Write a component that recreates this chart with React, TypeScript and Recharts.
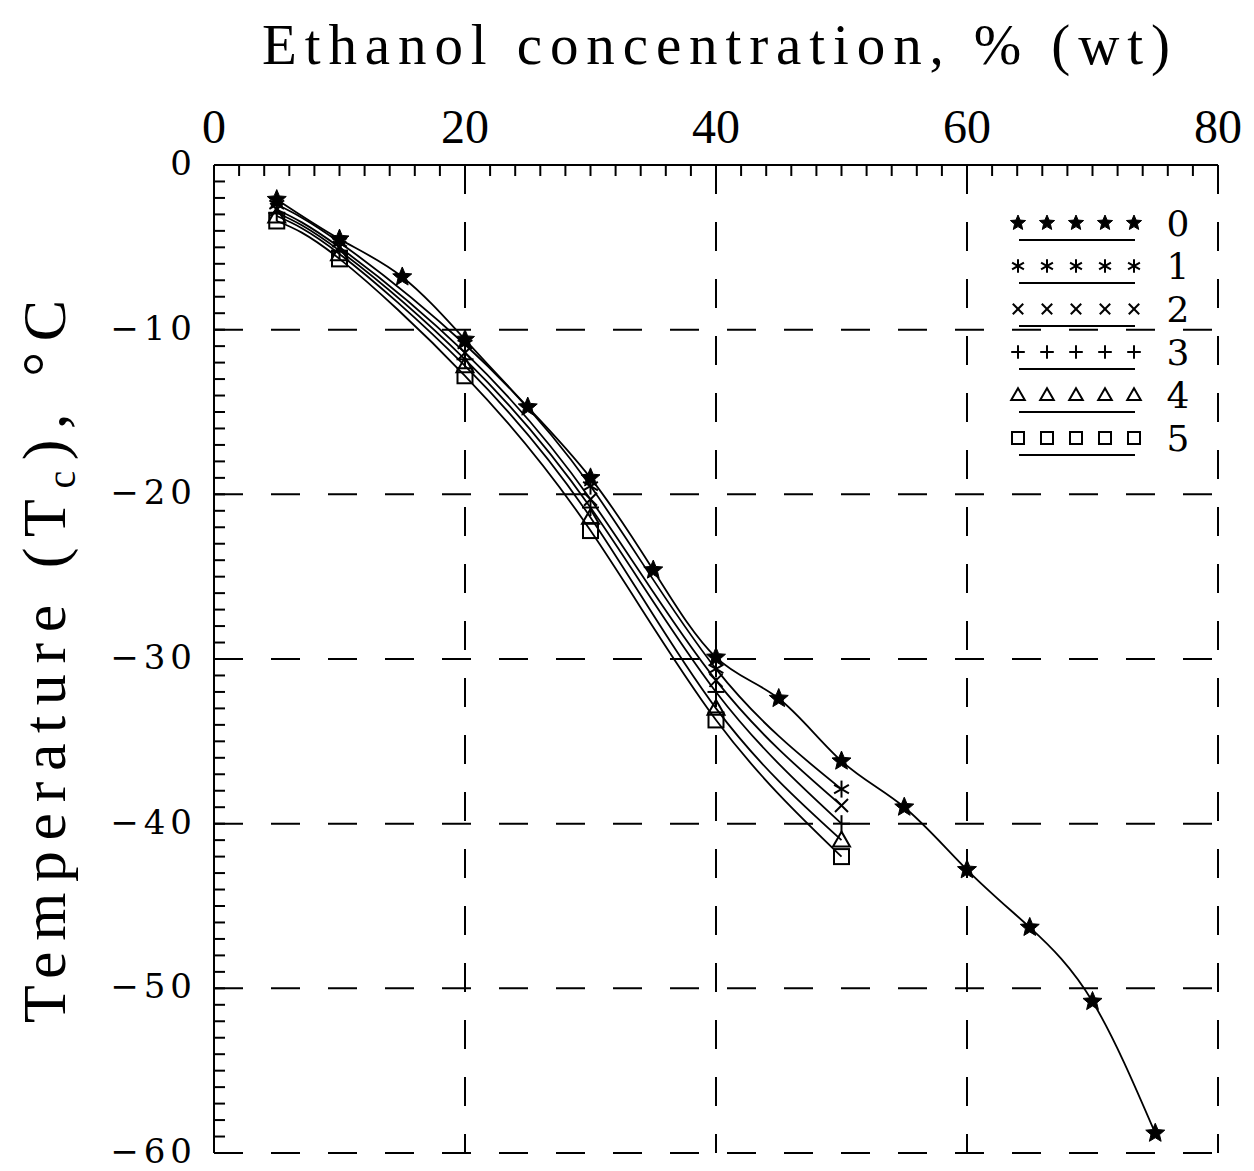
import React from "react";
import { LineChart, Line, XAxis, YAxis, ReferenceLine } from "recharts";

// ethanol concentration (% wt) and freezing temperature Tc (°C)
const conc0 = [5, 10, 15, 20, 25, 30, 35, 40, 45, 50, 55, 60, 65, 70, 75];
const temp0 = [-2.1, -4.5, -6.8, -10.6, -14.7, -19.0, -24.6, -29.9, -32.4, -36.2, -39.0, -42.8, -46.3, -50.8, -58.8];

const concN = [5, 10, 20, 30, 40, 50];
const temp1 = [-2.4, -4.7, -10.9, -19.5, -30.6, -37.9];
const temp2 = [-2.7, -5.0, -11.4, -20.3, -31.3, -38.9];
const temp3 = [-2.9, -5.2, -11.8, -20.8, -32.0, -40.0];
const temp4 = [-3.1, -5.4, -12.2, -21.4, -33.0, -41.0];
const temp5 = [-3.4, -5.7, -12.8, -22.2, -33.7, -42.0];

const seriesNames = ["0", "1", "2", "3", "4", "5"];
const seriesShapes = ["star", "asterisk", "cross", "plus", "triangle", "square"];

const xLabelTicks = [0, 20, 40, 60, 80];
const yLabelTicks = [0, -10, -20, -30, -40, -50, -60];
const xGrid = [20, 40, 60, 80];
const yGrid = [-10, -20, -30, -40, -50, -60];

const xMinorTicks = Array.from({ length: 41 }, (_, i) => i * 2);
const yMinorTicks = Array.from({ length: 61 }, (_, i) => -i);

const zip = (xs: number[], ys: number[]) => xs.map((x, i) => ({ x, y: ys[i] }));

const series = [
  zip(conc0, temp0),
  zip(concN, temp1),
  zip(concN, temp2),
  zip(concN, temp3),
  zip(concN, temp4),
  zip(concN, temp5),
].map((data, i) => ({ name: seriesNames[i], shape: seriesShapes[i], data }));

const SERIF = "'Liberation Serif', 'Times New Roman', serif";
const WIDE = "'DejaVu Serif', serif";
const DASH = "29 28";

function Marker({ cx, cy, shape, r }: { cx: number; cy: number; shape: string; r: number }) {
  const sw = 2;
  if (shape === "star") {
    const pts: string[] = [];
    for (let k = 0; k < 10; k++) {
      const rad = k % 2 === 0 ? r : r * 0.45;
      const a = -Math.PI / 2 + (k * Math.PI) / 5;
      pts.push(`${cx + rad * Math.cos(a)},${cy + rad * Math.sin(a)}`);
    }
    return <polygon points={pts.join(" ")} fill="#000" stroke="#000" strokeWidth={1} />;
  }
  if (shape === "asterisk") {
    const d = r * 0.85;
    return (
      <g stroke="#000" strokeWidth={sw}>
        <line x1={cx} y1={cy - d} x2={cx} y2={cy + d} />
        <line x1={cx - d * 0.87} y1={cy - d * 0.5} x2={cx + d * 0.87} y2={cy + d * 0.5} />
        <line x1={cx - d * 0.87} y1={cy + d * 0.5} x2={cx + d * 0.87} y2={cy - d * 0.5} />
      </g>
    );
  }
  if (shape === "cross") {
    const d = r * 0.65;
    return (
      <g stroke="#000" strokeWidth={sw}>
        <line x1={cx - d} y1={cy - d} x2={cx + d} y2={cy + d} />
        <line x1={cx - d} y1={cy + d} x2={cx + d} y2={cy - d} />
      </g>
    );
  }
  if (shape === "plus") {
    const d = r * 0.85;
    return (
      <g stroke="#000" strokeWidth={sw}>
        <line x1={cx - d} y1={cy} x2={cx + d} y2={cy} />
        <line x1={cx} y1={cy - d} x2={cx} y2={cy + d} />
      </g>
    );
  }
  if (shape === "triangle") {
    const d = r * 0.85;
    return (
      <polygon
        points={`${cx},${cy - d} ${cx - d},${cy + d * 0.75} ${cx + d},${cy + d * 0.75}`}
        fill="none"
        stroke="#000"
        strokeWidth={sw}
      />
    );
  }
  const d = r * 0.75;
  return <rect x={cx - d} y={cy - d} width={2 * d} height={2 * d} fill="none" stroke="#000" strokeWidth={sw} />;
}

function TopTick(props: any) {
  const { x, y, payload } = props;
  if (!xLabelTicks.includes(payload.value)) return <g />;
  return (
    <text x={x} y={y - 3} textAnchor="middle" fontFamily={SERIF} fontSize={48} fill="#000">
      {payload.value}
    </text>
  );
}

function LeftTick(props: any) {
  const { x, y, payload } = props;
  if (!yLabelTicks.includes(payload.value)) return <g />;
  const v = payload.value;
  const txt = v === 0 ? "0" : `\u2212${Math.abs(v)}`;
  return (
    <text x={x} y={y + 10} textAnchor="end" fontFamily={WIDE} fontSize={34} letterSpacing={5} fill="#000">
      {txt}
    </text>
  );
}

function XTitle() {
  return (
    <text x={254} y={56} fontFamily={SERIF} fontSize={57} textLength={908} lengthAdjust="spacing" fill="#000">
      Ethanol concentration, % (wt)
    </text>
  );
}

function YTitle() {
  return (
    <text
      x={57}
      y={1015}
      transform="rotate(-90, 57, 1015)"
      fontFamily={SERIF}
      fontSize={62}
      textLength={723}
      lengthAdjust="spacing"
      fill="#000"
    >
      Temperature (T
      <tspan fontSize={40} dy={10}>
        c
      </tspan>
      <tspan dy={-10}>), °C</tspan>
    </text>
  );
}

function LegendBox() {
  return (
    <svg width={230} height={280} style={{ position: "absolute", left: 990, top: 190 }}>
      {series.map((s, i) => {
        const cy = 25 + i * 43;
        return (
          <g key={s.name}>
            {[0, 1, 2, 3, 4].map((k) => (
              <Marker key={k} cx={20 + k * 29} cy={cy} shape={s.shape} r={8} />
            ))}
            <line x1={21} y1={cy + 17} x2={137} y2={cy + 17} stroke="#000" strokeWidth={2} />
            <text x={180} y={cy + 13} textAnchor="middle" fontFamily={WIDE} fontSize={36} fill="#000">
              {s.name}
            </text>
          </g>
        );
      })}
    </svg>
  );
}

export default function App() {
  return (
    <div style={{ position: "relative", width: 1238, height: 1163, background: "#fff" }}>
      <LineChart width={1238} height={1163} margin={{ top: 97, left: 86, right: 28, bottom: 18 }}>
        <XAxis
          type="number"
          dataKey="x"
          orientation="top"
          domain={[0, 80]}
          ticks={xMinorTicks}
          interval={0}
          height={60}
          allowDataOverflow
          axisLine={{ stroke: "#000", strokeWidth: 2 }}
          tickLine={{ stroke: "#000", strokeWidth: 2 }}
          tickSize={-11}
          tickMargin={30}
          tick={<TopTick />}
          label={<XTitle />}
        />
        <YAxis
          type="number"
          dataKey="y"
          domain={[-60, 0]}
          ticks={yMinorTicks}
          interval={0}
          width={120}
          allowDataOverflow
          axisLine={{ stroke: "#000", strokeWidth: 2 }}
          tickLine={{ stroke: "#000", strokeWidth: 2 }}
          tickSize={-11}
          tickMargin={28}
          tick={<LeftTick />}
          label={<YTitle />}
        />
        {xGrid.map((v) => (
          <ReferenceLine key={`vx${v}`} x={v} stroke="#000" strokeWidth={2} strokeDasharray={DASH} />
        ))}
        {yGrid.map((v) => (
          <ReferenceLine key={`hy${v}`} y={v} stroke="#000" strokeWidth={2} strokeDasharray={DASH} />
        ))}
        {series.map((s) => (
          <Line
            key={s.name}
            data={s.data}
            dataKey="y"
            name={s.name}
            type="natural"
            stroke="#000"
            strokeWidth={1.8}
            isAnimationActive={false}
            activeDot={false}
            dot={(p: any) => <Marker key={`${s.name}-${p.index}`} cx={p.cx} cy={p.cy} shape={s.shape} r={10} />}
          />
        ))}
      </LineChart>
      <LegendBox />
    </div>
  );
}
